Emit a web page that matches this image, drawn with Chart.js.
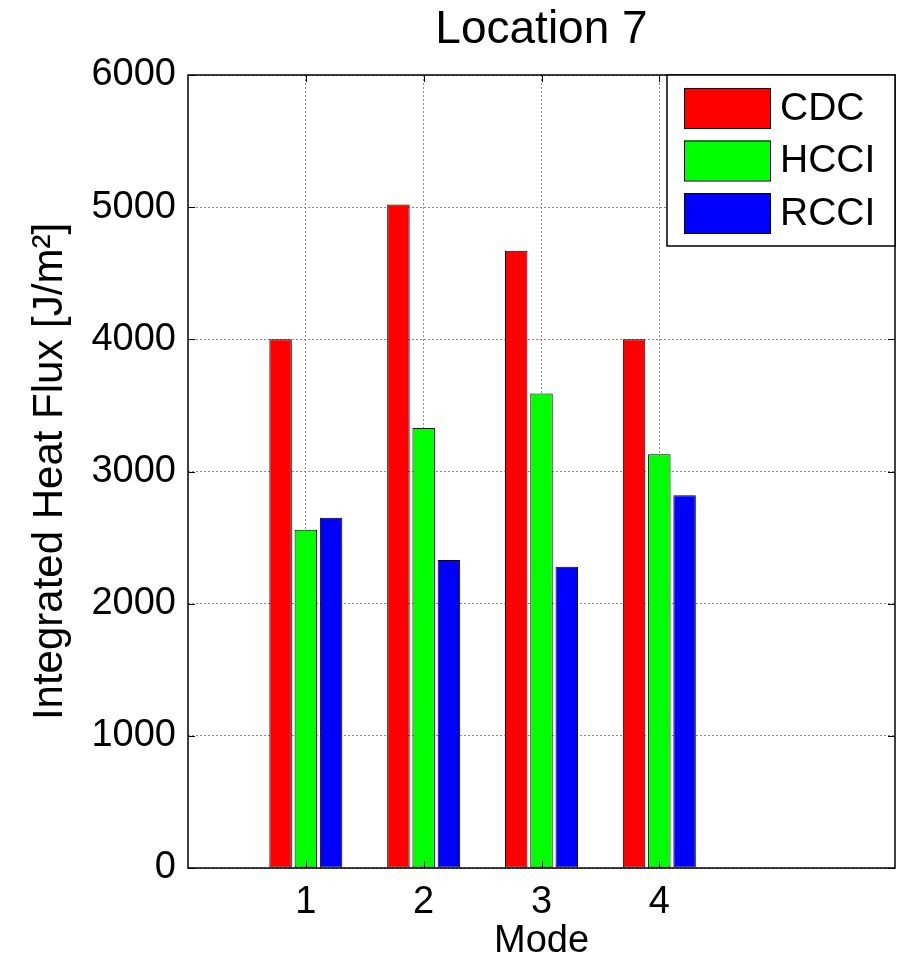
<!DOCTYPE html>
<html>
<head>
<meta charset="utf-8">
<script src="https://cdn.jsdelivr.net/npm/chart.js@4.4.0/dist/chart.umd.min.js"></script>
<style>
  html, body { margin: 0; padding: 0; background: #fff; }
</style>
</head>
<body>
<canvas id="mycanvas" width="903" height="964"></canvas>
<script>
// values
var modes = [1, 2, 3, 4];
var seriesNames = ['CDC', 'HCCI', 'RCCI'];
var cdc  = [4000, 5020, 4670, 4000];
var hcci = [2560, 3330, 3590, 3130];
var rcci = [2650, 2330, 2280, 2820];
var yTicks = [0, 1000, 2000, 3000, 4000, 5000, 6000];

var FONT = '"Liberation Sans", Arial, Helvetica, sans-serif';
var gridColor = '#8a8a8a';

function pts(vals) {
    return modes.map(function(m, i) { return { x: m, y: vals[i] }; });
}

// matlab style frame with inward ticks + legend in the top right corner
var matlabBox = {
    id: 'matlabBox',
    afterLayout: function(chart) {
        // center the title over the axes, not the whole canvas
        if (chart.titleBlock) {
            chart.titleBlock.left = chart.chartArea.left;
            chart.titleBlock.right = chart.chartArea.right;
        }
    },
    afterDatasetsDraw: function(chart) {
        var ctx = chart.ctx, a = chart.chartArea;
        var xs = chart.scales.x, ys = chart.scales.y;
        var tl = 7;
        ctx.save();
        ctx.strokeStyle = '#000';
        ctx.lineWidth = 1.5;
        ctx.strokeRect(a.left, a.top, a.right - a.left, a.bottom - a.top);
        ctx.lineWidth = 1;
        ctx.beginPath();
        yTicks.forEach(function(v) {
            var y = Math.round(ys.getPixelForValue(v)) + 0.5;
            ctx.moveTo(a.left, y); ctx.lineTo(a.left + tl, y);
            ctx.moveTo(a.right, y); ctx.lineTo(a.right - tl, y);
        });
        modes.forEach(function(v) {
            var x = Math.round(xs.getPixelForValue(v)) + 0.5;
            ctx.moveTo(x, a.bottom); ctx.lineTo(x, a.bottom - tl);
            ctx.moveTo(x, a.top); ctx.lineTo(x, a.top + tl);
        });
        ctx.stroke();

        // legend
        var w = 228, h = 171;
        var lx = a.right - w, ly = a.top;
        ctx.fillStyle = '#fff';
        ctx.fillRect(lx, ly, w, h);
        ctx.lineWidth = 1.5;
        ctx.strokeStyle = '#000';
        ctx.strokeRect(lx, ly, w, h);
        ctx.font = '39px ' + FONT;
        ctx.textBaseline = 'middle';
        ctx.textAlign = 'left';
        chart.data.datasets.forEach(function(ds, i) {
            var sy = ly + 13 + i * 52.5;
            ctx.fillStyle = ds.backgroundColor;
            ctx.fillRect(lx + 17, sy, 86, 40);
            ctx.lineWidth = 1;
            ctx.strokeRect(lx + 17.5, sy + 0.5, 86, 40);
            ctx.fillStyle = '#000';
            ctx.fillText(ds.label, lx + 113, sy + 21);
        });
        ctx.restore();
    }
};

var ctx = document.getElementById('mycanvas').getContext('2d');
var chart = new Chart(ctx, {
    type: 'bar',
    data: {
        datasets: [
            { label: seriesNames[0], data: pts(cdc),  backgroundColor: '#ff0000' },
            { label: seriesNames[1], data: pts(hcci), backgroundColor: '#00ff00' },
            { label: seriesNames[2], data: pts(rcci), backgroundColor: '#0000ff' }
        ]
    },
    options: {
        responsive: false,
        animation: false,
        layout: { padding: { left: 0, right: 8, top: 0, bottom: 0 } },
        datasets: {
            bar: {
                borderColor: '#000',
                borderWidth: 1,
                borderSkipped: false,
                categoryPercentage: 0.643,
                barPercentage: 0.89
            }
        },
        plugins: {
            legend: { display: false },
            tooltip: { enabled: false },
            title: {
                display: true,
                text: 'Location 7',
                color: '#000',
                font: { family: FONT, size: 46, weight: 'normal', lineHeight: 1.2 },
                padding: { top: 3, bottom: 16.8 }
            }
        },
        scales: {
            x: {
                type: 'linear',
                min: 0,
                max: 6,
                offset: false,
                afterBuildTicks: function(scale) {
                    scale.ticks = modes.map(function(v) { return { value: v }; });
                },
                afterFit: function(scale) { scale.height = 96; },
                ticks: {
                    color: '#000',
                    padding: 12,
                    font: { family: FONT, size: 38 },
                    callback: function(v) { return String(v); }
                },
                grid: { color: gridColor, lineWidth: 1, drawTicks: false, offset: false },
                border: { display: false, dash: [2, 2] },
                title: {
                    display: true,
                    text: 'Mode',
                    color: '#000',
                    font: { family: FONT, size: 38, lineHeight: 1.2 },
                    padding: { top: 9, bottom: 0 }
                }
            },
            y: {
                min: 0,
                max: 6000,
                afterBuildTicks: function(scale) {
                    scale.ticks = yTicks.map(function(v) { return { value: v }; });
                },
                afterFit: function(scale) { scale.width = 188; },
                ticks: {
                    color: '#000',
                    padding: 12,
                    font: { family: FONT, size: 38 },
                    callback: function(v) { return String(v); }
                },
                grid: { color: gridColor, lineWidth: 1, drawTicks: false },
                border: { display: false, dash: [2, 2] },
                title: {
                    display: true,
                    text: 'Integrated Heat Flux [J/m²]',
                    color: '#000',
                    font: { family: FONT, size: 42, lineHeight: 1.2 },
                    padding: { top: 25, bottom: 0 }
                }
            }
        }
    },
    plugins: [matlabBox]
});
</script>
</body>
</html>
